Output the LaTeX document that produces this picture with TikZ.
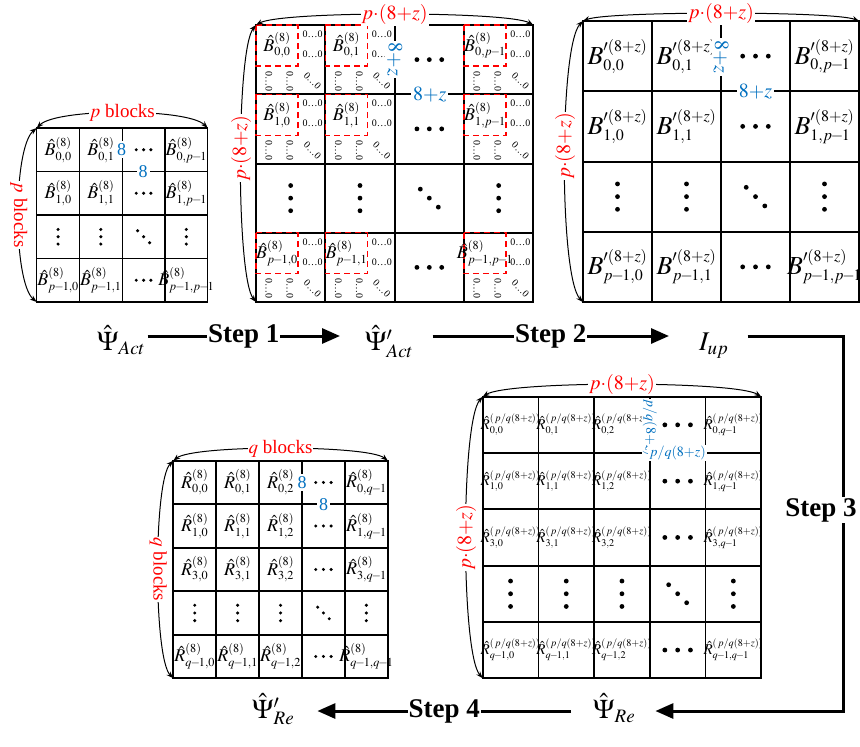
\documentclass[tikz,border=0pt]{standalone}
\usepackage{mathptmx}
\usepackage[no-math]{fontspec}
\setmainfont{Liberation Serif}
\usetikzlibrary{arrows.meta,calc}

\definecolor{lblred}{RGB}{255,0,0}
\definecolor{lblblue}{RGB}{0,112,192}
\newcommand{\fsz}[1]{\fontsize{#1}{#1}\selectfont}
% tighter minus sign for block indices
\newcommand{\smin}{\mkern-1.5mu-\mkern-1.5mu}
% compact script sizes for the block labels
\DeclareMathSizes{14}{14}{10}{7}
\DeclareMathSizes{15}{15}{10.2}{8}
\DeclareMathSizes{18}{18}{12.2}{9}
\DeclareMathSizes{19}{19}{13}{10}
\DeclareMathSizes{20}{20}{14}{10}
\DeclareMathSizes{26}{26}{16}{12}
\DeclareMathSizes{27}{27}{19}{14}

\begin{document}
\begin{tikzpicture}[x=1pt,y=-1pt,
  gA/.style={line width=1.3pt},
  gB/.style={line width=2pt},
  gD/.style={line width=1.7pt},
  gE/.style={line width=1.8pt},
  txt/.style={inner sep=0pt, outer sep=0pt},
  bsmall/.style={txt, font=\fsz{18}},
  bbig/.style={txt, font=\fsz{26}},
  rsmall/.style={txt, font=\fsz{15}},
  zr/.style={txt, font=\fsz{10}, text=black},
  redbox/.style={lblred, line width=1.4pt, dash pattern=on 6pt off 4pt},
  bluelbl/.style={fill=white, inner sep=2pt, text=lblblue},
  redlbl/.style={fill=white, inner sep=1pt, text=lblred},
  dimarc/.style={line width=1pt, {Stealth[length=7pt,width=5pt]}-{Stealth[length=7pt,width=5pt]}},
  mainarr/.style={line width=3pt, -{Triangle[length=18pt,width=15pt]}},
  steplbl/.style={fill=white, inner sep=1pt, font=\fsz{27}\bfseries},
  psi/.style={inner sep=0pt, font=\fsz{27}},
  pics/hd/.style 2 args={code={\foreach \i in {-1,0,1}{\fill ({\i*#1},0) circle[radius=#2pt];}}},
  pics/vd/.style 2 args={code={\foreach \i in {-1,0,1}{\fill (0,{\i*#1}) circle[radius=#2pt];}}},
  pics/dd/.style 2 args={code={\foreach \i in {-1,0,1}{\fill ({\i*#1},{\i*#1}) circle[radius=#2pt];}}},
]
\useasboundingbox (0,0) rectangle (860,747);

% ---------------- grid A: p x p blocks of 8 ----------------
\draw[gA] (36.7,128) rectangle (207.7,302);
\foreach \i in {1,2,3}{
  \draw[gA] ({36.7+\i*42.75},128) -- ({36.7+\i*42.75},302);
  \draw[gA] (36.7,{128+\i*43.5}) -- (207.7,{128+\i*43.5});
}
\foreach \r/\c/\t in {0/0/{0,0},0/1/{0,1},0/3/{0,p\smin1},1/0/{1,0},1/1/{1,1},1/3/{1,p\smin1},3/0/{p\smin1,0},3/1/{p\smin1,1},3/3/{p\smin1,p\smin1}}
  \node[bsmall] (A-\r-\c) at ({36.7+(\c+0.5)*42.75},{128+(\r+0.5)*43.5}) {$\hat{B}^{(8)}_{\t}$};
\foreach \r in {0,1,3} \pic at ({36.7+2.5*42.75},{128+(\r+0.5)*43.5}) {hd={7.3}{1.7}};
\foreach \c in {0,1,3} \pic at ({36.7+(\c+0.5)*42.75},{128+2.5*43.5}) {vd={7.3}{1.7}};
\pic at ({36.7+2.5*42.75},{128+2.5*43.5}) {dd={6}{1.7}};
\node[bluelbl, font=\fsz{18}] (A-w) at (121.7,149.5) {8};
\node[bluelbl, font=\fsz{18}] (A-h) at (143.1,171.5) {8};
\draw[dimarc] (36.7,128) .. controls +(20,-20) and +(-20,-20) .. (207.7,128)
  node[midway, redlbl, font=\fsz{19}] (A-top) {$p$ blocks};
\draw[dimarc] (36.7,128) .. controls +(-24,20) and +(-24,-20) .. (36.7,302)
  node[midway, redlbl, rotate=-90, font=\fsz{19}] (A-left) {$p$ blocks};

% ---------------- grid B: padded blocks ----------------
\draw[gB] (256,25) rectangle (533.3,302);
\foreach \i in {1,2,3}{
  \draw[gB] ({256+\i*69.33},25) -- ({256+\i*69.33},302);
  \draw[gB] (256,{25+\i*69.25}) -- (533.3,{25+\i*69.25});
}
\foreach \r/\c/\t in {0/0/{0,0},0/1/{0,1},0/3/{0,p\smin1},1/0/{1,0},1/1/{1,1},1/3/{1,p\smin1},3/0/{p\smin1,0},3/1/{p\smin1,1},3/3/{p\smin1,p\smin1}}{
  \pgfmathsetmacro{\X}{256+\c*69.33}
  \pgfmathsetmacro{\Y}{25+\r*69.25}
  \draw[redbox] (\X,\Y) rectangle (\X+42,\Y+41);
  \node[bsmall] (B-\r-\c) at (\X+21,\Y+20.5) {$\hat{B}^{(8)}_{\t}$};
  \node[zr] (B-\r-\c-a) at (\X+56.5,\Y+9) {0…0};
  \node[zr] (B-\r-\c-b) at (\X+56.5,\Y+29) {0…0};
  \node[zr, rotate=-90] (B-\r-\c-c) at (\X+13,\Y+56) {0…0};
  \node[zr, rotate=-90] (B-\r-\c-d) at (\X+34,\Y+56) {0…0};
  \node[zr, rotate=-45] (B-\r-\c-e) at (\X+56.5,\Y+56) {0…0};
}
\foreach \r in {0,1,3} \pic at ({256+2.5*69.33},{25+(\r+0.5)*69.25}) {hd={12.4}{2.4}};
\foreach \c in {0,1,3} \pic at ({256+(\c+0.5)*69.33},{25+2.5*69.25}) {vd={12.6}{2.4}};
\pic at ({256+2.5*69.33},{25+2.5*69.25}) {dd={9}{2.4}};
\node[bluelbl, rotate=-90, font=\fsz{20}] (B-w) at (394.7,59.6) {$8{+}z$};
\node[bluelbl, font=\fsz{20}] (B-h) at (429.7,94.25) {$8{+}z$};
\draw[dimarc] (256,25) .. controls +(25,-14) and +(-25,-14) .. (533.3,25)
  node[midway, redlbl, font=\fsz{20}] (B-top) {$p{\cdot}(8{+}z)$};
\draw[dimarc] (256,25) .. controls +(-20,25) and +(-20,-25) .. (256,302)
  node[pos=0.46, redlbl, rotate=90, font=\fsz{20}] (B-left) {$p{\cdot}(8{+}z)$};

% ---------------- grid C: (8+z) blocks ----------------
\draw[gB] (583,21) rectangle (859,302);
\foreach \i in {1,2,3}{
  \draw[gB] ({583+\i*69},21) -- ({583+\i*69},302);
  \draw[gB] (583,{21+\i*70.25}) -- (859,{21+\i*70.25});
}
\foreach \r/\c/\t in {0/0/{0,0},0/1/{0,1},0/3/{0,p\smin1},1/0/{1,0},1/1/{1,1},1/3/{1,p\smin1},3/0/{p\smin1,0},3/1/{p\smin1,1},3/3/{p\smin1,p\smin1}}
  \node[bbig] (C-\r-\c) at ({583+(\c+0.5)*69},{21+(\r+0.5)*70.25}) {$B'^{(8+z)}_{\t}$};
\foreach \r in {0,1,3} \pic at ({583+2.5*69},{21+(\r+0.5)*70.25}) {hd={12.8}{2.4}};
\foreach \c in {0,1,3} \pic at ({583+(\c+0.5)*69},{21+2.5*70.25}) {vd={12.7}{2.4}};
\pic at ({583+2.5*69},{21+2.5*70.25}) {dd={9.3}{2.4}};
\node[bluelbl, rotate=-90, font=\fsz{20}] (C-w) at (721,57) {$8{+}z$};
\node[bluelbl, font=\fsz{20}] (C-h) at (755.5,91.25) {$8{+}z$};
\draw[dimarc] (583,21) .. controls +(25,-10) and +(-25,-10) .. (859,21)
  node[midway, redlbl, font=\fsz{20}] (C-top) {$p{\cdot}(8{+}z)$};
\draw[dimarc] (583,21) .. controls +(-24,25) and +(-24,-25) .. (583,302)
  node[pos=0.46, redlbl, rotate=90, font=\fsz{20}] (C-left) {$p{\cdot}(8{+}z)$};

% ---------------- grid D: q x q blocks of 8 ----------------
\draw[gD] (173.3,460.7) rectangle (387.8,678.2);
\foreach \i in {1,2,3,4}{
  \draw[gD] ({173.3+\i*42.9},460.7) -- ({173.3+\i*42.9},678.2);
  \draw[gD] (173.3,{460.7+\i*43.5}) -- (387.8,{460.7+\i*43.5});
}
\foreach \r/\c/\t in {0/0/{0,0},0/1/{0,1},0/2/{0,2},0/4/{0,q\smin1},1/0/{1,0},1/1/{1,1},1/2/{1,2},1/4/{1,q\smin1},2/0/{3,0},2/1/{3,1},2/2/{3,2},2/4/{3,q\smin1},4/0/{q\smin1,0},4/1/{q\smin1,1},4/2/{q\smin1,2},4/4/{q\smin1,q\smin1}}
  \node[bsmall] (D-\r-\c) at ({173.3+(\c+0.5)*42.9},{460.7+(\r+0.5)*43.5}) {$\hat{R}^{(8)}_{\t}$};
\foreach \r in {0,1,2,4} \pic at ({173.3+3.5*42.9},{460.7+(\r+0.5)*43.5}) {hd={7.7}{1.7}};
\foreach \c in {0,1,2,4} \pic at ({173.3+(\c+0.5)*42.9},{460.7+3.5*43.5}) {vd={7.7}{1.7}};
\pic at ({173.3+3.5*42.9},{460.7+3.5*43.5}) {dd={5.8}{1.7}};
\node[bluelbl, font=\fsz{18}] (D-w) at (302,482.5) {8};
\node[bluelbl, font=\fsz{18}] (D-h) at (323.5,504.2) {8};
\draw[dimarc] (173.3,460.7) .. controls +(20,-16) and +(-20,-16) .. (387.8,460.7)
  node[midway, redlbl, font=\fsz{19}] (D-top) {$q$ blocks};
\draw[dimarc] (173.3,460.7) .. controls +(-20,20) and +(-20,-20) .. (173.3,678.2)
  node[midway, redlbl, rotate=-90, font=\fsz{19}] (D-left) {$q$ blocks};

% ---------------- grid E: q x q blocks of p/q(8+z) ----------------
\draw[gE] (482.7,396.7) rectangle (761.2,678.2);
\foreach \i in {1,2,3,4}{
  \draw[gE] ({482.7+\i*55.7},396.7) -- ({482.7+\i*55.7},678.2);
  \draw[gE] (482.7,{396.7+\i*56.3}) -- (761.2,{396.7+\i*56.3});
}
\foreach \r/\c/\t in {0/0/{0,0},0/1/{0,1},0/2/{0,2},0/4/{0,q\smin1},1/0/{1,0},1/1/{1,1},1/2/{1,2},1/4/{1,q\smin1},2/0/{3,0},2/1/{3,1},2/2/{3,2},2/4/{3,q\smin1},4/0/{q\smin1,0},4/1/{q\smin1,1},4/2/{q\smin1,2},4/4/{q\smin1,q\smin1}}
  \node[rsmall] (E-\r-\c) at ({482.7+(\c+0.5)*55.7},{396.7+(\r+0.5)*56.3}) {$\hat{R}^{(\,p/q(8+z))}_{\t}$};
\foreach \r in {0,1,2,4} \pic at ({482.7+3.5*55.7},{396.7+(\r+0.5)*56.3}) {hd={12.8}{2.4}};
\foreach \c in {0,1,2,4} \pic at ({482.7+(\c+0.5)*55.7},{396.7+3.5*56.3}) {vd={12.7}{2.4}};
\pic at ({482.7+3.5*55.7},{396.7+3.5*56.3}) {dd={9}{2.4}};
\node[bluelbl, inner sep=1pt, rotate=-90, font=\fsz{14}] (E-w) at (649.8,428) {$p/q(8{+}z)$};
\node[bluelbl, inner sep=1pt, font=\fsz{14}] (E-h) at (677.6,453) {$p/q(8{+}z)$};
\draw[dimarc] (482.7,396.7) .. controls +(25,-16) and +(-25,-16) .. (761.2,396.7)
  node[midway, redlbl, font=\fsz{20}] (E-top) {$p{\cdot}(8{+}z)$};
\draw[dimarc] (482.7,396.7) .. controls +(-22,25) and +(-22,-25) .. (482.7,678.2)
  node[midway, redlbl, rotate=90, font=\fsz{20}] (E-left) {$p{\cdot}(8{+}z)$};

% ---------------- processing flow ----------------
\coordinate (r1) at (0,336);
\coordinate (r2) at (0,711);
\node[psi, anchor=base west] (psiA) at (97,350) {$\hat{\Psi}_{Act}$};
\node[psi, anchor=base west] (psiAp) at (365,350) {$\hat{\Psi}'_{Act}$};
\node[psi, anchor=base west] (Iup) at (699,350) {$I_{up}$};
\node[psi, anchor=base west] (psiRe) at (593,718) {$\hat{\Psi}_{Re}$};
\node[psi, anchor=base west] (psiRep) at (252,718) {$\hat{\Psi}'_{Re}$};
\coordinate (turn1) at (843,336);
\coordinate (turn2) at (843,711);

\draw[mainarr] ($(psiA.east |- r1)+(2,0)$) -- ($(psiAp.west |- r1)+(-25,0)$)
  node[midway, steplbl] (s1) {Step 1};
\draw[mainarr] ($(psiAp.east |- r1)+(19,0)$) -- ($(Iup.west |- r1)+(-30,0)$)
  node[midway, steplbl] (s2) {Step 2};
\draw[mainarr] ($(Iup.east |- r1)+(19,0)$) -- (turn1) -- (turn2) -- ($(psiRe.east |- r2)+(20,0)$);
\node[steplbl] (s3) at (821,510) {Step 3};
\draw[mainarr] ($(psiRe.west |- r2)+(-22,0)$) -- ($(psiRep.east |- r2)+(23,0)$)
  node[midway, steplbl] (s4) {Step 4};
\end{tikzpicture}
\end{document}
